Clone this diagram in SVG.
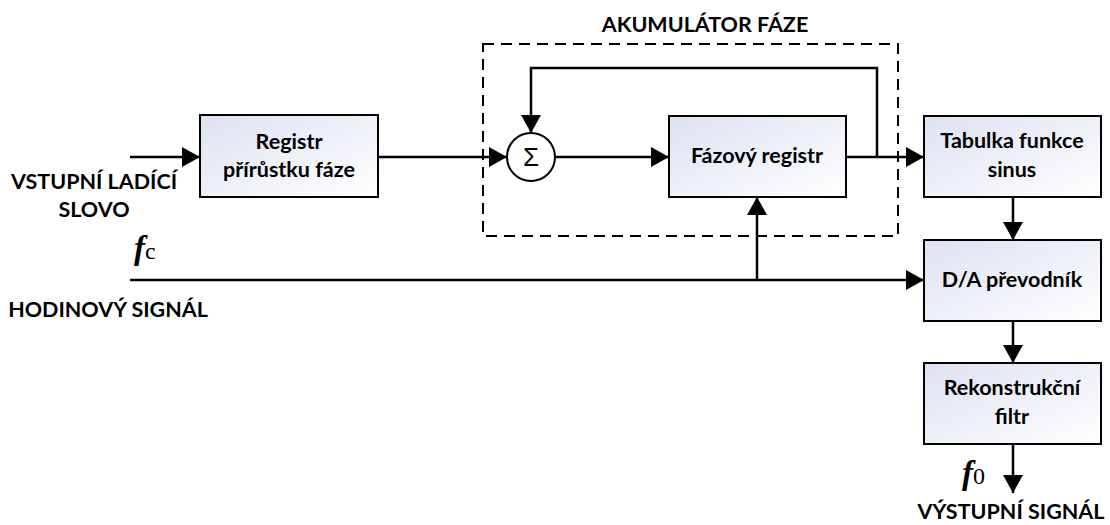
<svg xmlns="http://www.w3.org/2000/svg" width="1110" height="525" viewBox="0 0 1110 525">
<defs>
<linearGradient id="g" x1="0" y1="0" x2="1" y2="1">
<stop offset="0" stop-color="#dde2f1"/>
<stop offset="1" stop-color="#ffffff"/>
</linearGradient>
<marker id="arr" viewBox="0 0 18 20" refX="18" refY="10" markerWidth="18" markerHeight="20" markerUnits="userSpaceOnUse" orient="auto">
<path d="M0,0 L18,10 L0,20 Z" fill="#000"/>
</marker>
<style>
.box{fill:url(#g);stroke:#000;stroke-width:2}
.t{font-family:Lato,"Liberation Sans",sans-serif;font-weight:700;font-size:21.5px;fill:#000;text-anchor:middle}
.c{fill:none;stroke:#000;stroke-width:2.5;marker-end:url(#arr)}
.fi{font-family:"Liberation Serif",serif;font-style:italic;font-weight:700;font-size:33px}
.fs{font-family:"Liberation Serif",serif;font-size:24px}
</style>
</defs>
<rect id="accumulator" x="483" y="44" width="415" height="192" fill="none" stroke="#000" stroke-width="2" stroke-dasharray="11,7"/>
<text class="t" x="705" y="32">AKUMULÁTOR FÁZE</text>
<g id="connectors">
<path class="c" d="M130,157 H200"/>
<path class="c" d="M378,157 H507"/>
<path class="c" d="M555,157 H669"/>
<path class="c" d="M846,157 H924"/>
<path class="c" d="M877,157 V68 H531 V133"/>
<path class="c" d="M130,280 H924"/>
<path class="c" d="M757,280 V197"/>
<path class="c" d="M1013,197 V240"/>
<path class="c" d="M1013,321 V363"/>
<path class="c" d="M1013,444 V493"/>
</g>
<g id="registr_prirustku">
<rect class="box" x="200" y="115" width="178" height="82"/>
<text class="t" x="289" y="149">Registr</text>
<text class="t" x="289" y="177">přírůstku fáze</text>
</g>
<g id="sum">
<circle cx="531" cy="157" r="24" fill="#fff" stroke="#000" stroke-width="2"/>
<text x="531" y="166" font-family="'Liberation Sans',sans-serif" font-size="26" text-anchor="middle">Σ</text>
</g>
<g id="fazovy_registr">
<rect class="box" x="669" y="116" width="177" height="81"/>
<text class="t" x="757" y="163">Fázový registr</text>
</g>
<g id="tabulka">
<rect class="box" x="924" y="116" width="177" height="81"/>
<text class="t" x="1012" y="148">Tabulka funkce</text>
<text class="t" x="1012" y="177">sinus</text>
</g>
<g id="da">
<rect class="box" x="924" y="240" width="177" height="81"/>
<text class="t" x="1012" y="287">D/A převodník</text>
</g>
<g id="filtr">
<rect class="box" x="924" y="363" width="177" height="81"/>
<text class="t" x="1012" y="395">Rekonstrukční</text>
<text class="t" x="1012" y="424">filtr</text>
</g>
<g id="labels">
<text class="t" x="94" y="189">VSTUPNÍ LADÍCÍ</text>
<text class="t" x="94" y="217">SLOVO</text>
<text x="134" y="259"><tspan class="fi">f</tspan><tspan class="fs">c</tspan></text>
<text class="t" x="108" y="317">HODINOVÝ SIGNÁL</text>
<text x="962" y="484"><tspan class="fi">f</tspan><tspan class="fs">0</tspan></text>
<text class="t" x="1011" y="519">VÝSTUPNÍ SIGNÁL</text>
</g>
</svg>
